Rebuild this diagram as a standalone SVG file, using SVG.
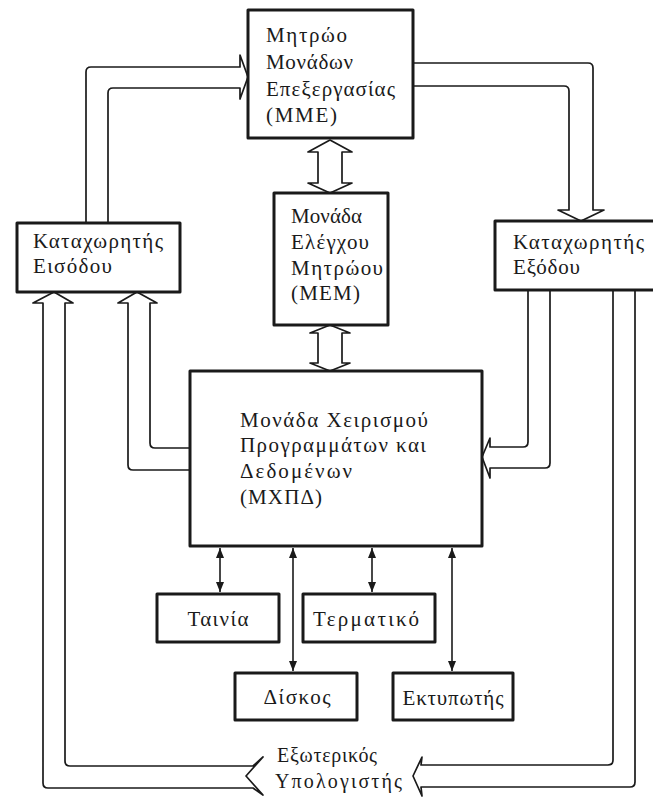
<svg xmlns="http://www.w3.org/2000/svg" width="653" height="801" viewBox="0 0 653 801">
<style>
.box{fill:none;stroke:#1a1a1a;stroke-width:3;stroke-linejoin:round}
.hol{fill:none;stroke:#1a1a1a;stroke-width:1.7;stroke-linejoin:round}
.thin{stroke:#1a1a1a;stroke-width:1.6;fill:none}
text{font-family:"Liberation Serif","DejaVu Serif",serif;font-size:21px;fill:#1a1a1a}
.sm{font-size:20px}
</style>
<defs>
<marker id="ah" markerUnits="userSpaceOnUse" markerWidth="10" markerHeight="8" refX="10" refY="4" orient="auto-start-reverse">
<path d="M0,0 L10,4 L0,8 z" fill="#1a1a1a"/>
</marker>
</defs>
<rect width="653" height="801" fill="#ffffff"/>

<g id="connectors">
<path class="hol" d="M86,223 V72 Q86,67 91,67 H240 L240,55 L248,77 L240,99 L240,88 H113 Q108,88 108,93 V223"/>
<path class="hol" d="M413,63 H588 Q593,63 593,68 V210 L604,210 L581,221 L558,210 L569,210 V91 Q569,86 564,86 H413"/>
<path class="hol" d="M318,152 L308,152 L330,140 L352,152 L342,152 V183 L352,183 L330,193 L308,183 L318,183 Z"/>
<path class="hol" d="M318,333 L310,333 L330,325 L350,333 L342,333 V363 L350,363 L330,371 L310,363 L318,363 Z"/>
<path class="hol" d="M190,470 H133 Q128,470 128,465 V303 L118,303 L137,292 L157,303 L150,303 V443 Q150,448 155,448 H190"/>
<path class="hol" d="M246,776 L263,757 L253,766 H70 Q65,766 65,761 V303 L73,303 L54,292 L33,303 L43,303 V783 Q43,788 48,788 H253 L263,795 Z"/>
<path class="hol" d="M528,290 V442 Q528,447 523,447 H490 L490,438 L482,457 L490,478 L490,468 H545 Q550,468 550,463 V290"/>
<path class="hol" d="M613,290 V760 Q613,765 608,765 H421 L422,757 L413,776 L422,796 L421,787 H630 Q635,787 635,782 V290"/>
<line class="thin" x1="220" y1="548" x2="220" y2="592" marker-start="url(#ah)" marker-end="url(#ah)"/>
<line class="thin" x1="293" y1="548" x2="293" y2="671" marker-start="url(#ah)" marker-end="url(#ah)"/>
<line class="thin" x1="372" y1="548" x2="372" y2="592" marker-start="url(#ah)" marker-end="url(#ah)"/>
<line class="thin" x1="452" y1="548" x2="452" y2="671" marker-start="url(#ah)" marker-end="url(#ah)"/>
</g>

<g id="mme">
<rect class="box" x="248" y="10" width="165" height="128"/>
<text x="266" y="42" textLength="81" lengthAdjust="spacing">Μητρώο</text>
<text x="266" y="69" textLength="87" lengthAdjust="spacing">Μονάδων</text>
<text x="266" y="96" textLength="129" lengthAdjust="spacing">Επεξεργασίας</text>
<text x="266" y="122" textLength="71" lengthAdjust="spacing">(ΜΜΕ)</text>
</g>

<g id="input-register">
<rect class="box" x="17" y="223" width="163" height="69"/>
<text x="33" y="248" textLength="130" lengthAdjust="spacing">Καταχωρητής</text>
<text x="33" y="273" textLength="79" lengthAdjust="spacing">Εισόδου</text>
</g>

<g id="output-register">
<rect class="box" x="495" y="221" width="165" height="69"/>
<text x="513" y="249" textLength="131" lengthAdjust="spacing">Καταχωρητής</text>
<text x="513" y="274" textLength="67" lengthAdjust="spacing">Εξόδου</text>
</g>

<g id="mem">
<rect class="box" x="274" y="193" width="114" height="132"/>
<text x="291" y="223" textLength="71" lengthAdjust="spacing">Μονάδα</text>
<text x="291" y="249" textLength="78" lengthAdjust="spacing">Ελέγχου</text>
<text x="291" y="275" textLength="92" lengthAdjust="spacing">Μητρώου</text>
<text x="291" y="300" textLength="69" lengthAdjust="spacing">(ΜΕΜ)</text>
</g>

<g id="mxpd">
<rect class="box" x="190" y="371" width="292" height="175"/>
<text x="240" y="427" textLength="188" lengthAdjust="spacing">Μονάδα Χειρισμού</text>
<text x="240" y="452" textLength="186" lengthAdjust="spacing">Προγραμμάτων και</text>
<text x="240" y="478" textLength="112" lengthAdjust="spacing">Δεδομένων</text>
<text x="240" y="504" textLength="82" lengthAdjust="spacing">(ΜΧΠΔ)</text>
</g>

<g id="tape">
<rect class="box" x="157" y="594" width="122" height="48"/>
<text x="218" y="626" text-anchor="middle" textLength="61" lengthAdjust="spacing">Ταινία</text>
</g>

<g id="terminal">
<rect class="box" x="303" y="594" width="132" height="48"/>
<text x="366" y="626" text-anchor="middle" textLength="106" lengthAdjust="spacing">Τερματικό</text>
</g>

<g id="disk">
<rect class="box" x="235" y="673" width="122" height="47"/>
<text x="297" y="704" text-anchor="middle" textLength="67" lengthAdjust="spacing">Δίσκος</text>
</g>

<g id="printer">
<rect class="box" x="393" y="673" width="120" height="47"/>
<text x="453" y="705" text-anchor="middle" textLength="101" lengthAdjust="spacing">Εκτυπωτής</text>
</g>

<g id="external-computer">
<text class="sm" x="277" y="762" textLength="100" lengthAdjust="spacing">Εξωτερικός</text>
<text class="sm" x="275" y="788" textLength="127" lengthAdjust="spacing">Υπολογιστής</text>
</g>
</svg>
